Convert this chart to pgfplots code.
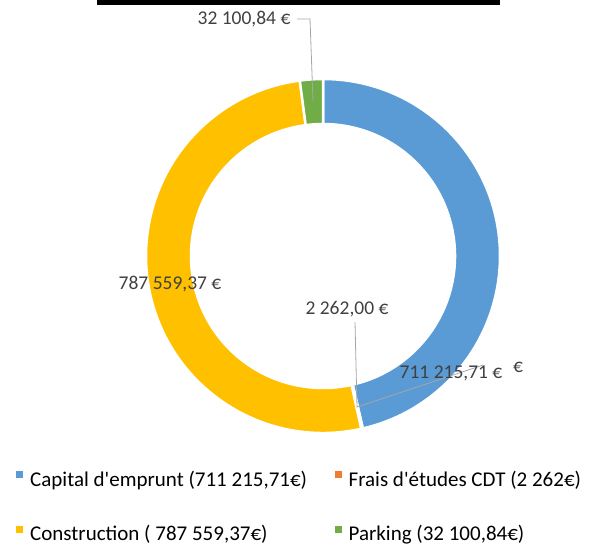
\documentclass[border=0pt]{standalone}
\usepackage{fontspec}
\setmainfont{Carlito}
\usepackage{pgfplots}
\pgfplotsset{compat=1.18}

\definecolor{capblue}{HTML}{5B9BD5}
\definecolor{fraisorange}{HTML}{ED7D31}
\definecolor{constyellow}{HTML}{FFC000}
\definecolor{parkgreen}{HTML}{70AD47}
\definecolor{labelgray}{HTML}{404040}
\definecolor{leadergray}{HTML}{A6A6A6}

% slice values (EUR)
\def\vCap{711215.71}
\def\vFrais{2262}
\def\vConstr{787559.37}
\def\vPark{32100.84}
\edef\vTot{\fpeval{\vCap+\vFrais+\vConstr+\vPark}}
% boundary angles, clockwise from 12 o'clock
\edef\aA{90}
\edef\aB{\fpeval{90-360*\vCap/\vTot}}
\edef\aC{\fpeval{\aB-360*\vFrais/\vTot}}
\edef\aD{\fpeval{\aC-360*\vConstr/\vTot}}
\edef\aE{\fpeval{\aD-360*\vPark/\vTot}}

\def\Ro{177}
\def\Ri{132}
% donut slice: start angle, end angle, colour
\newcommand\slice[3]{%
  \fill[#3, draw=white, line width=2.5pt]
    ([shift={(#1:\Ro pt)}]axis cs:323,256)
    arc[start angle=#1, end angle=#2, radius=\Ro pt]
    -- ([shift={(#2:\Ri pt)}]axis cs:323,256)
    arc[start angle=#2, end angle=#1, radius=\Ri pt] -- cycle;}

\begin{document}
\begin{tikzpicture}
\begin{axis}[
    width=590pt, height=547pt, scale only axis,
    xmin=0, xmax=590, ymin=0, ymax=547,
    y dir=reverse,
    hide axis, clip=false,
    legend columns=2,
    legend cell align=left,
    legend image code/.code={%
        \fill[#1] (0pt,3.3pt) rectangle (7pt,10.3pt);
        \path (14pt,0pt);},
    legend style={at={(axis cs:16,471)}, anchor=north west,
        draw=none, fill=none, inner sep=0pt,
        font=\fontsize{21}{25}\selectfont, text=black,
        nodes={inner sep=0pt, text height=14pt, text depth=4pt},
        row sep=35pt,
        /tikz/every even column/.append style={column sep=27.5pt}},
]
\addlegendimage{fill=capblue, draw=none}
\addlegendentry{Capital d\textquotesingle emprunt (711 215,71€)}
\addlegendimage{fill=fraisorange, draw=none}
\addlegendentry{Frais d\textquotesingle études CDT (2 262€)}
\addlegendimage{fill=constyellow, draw=none}
\addlegendentry{Construction ( 787 559,37€)}
\addlegendimage{fill=parkgreen, draw=none}
\addlegendentry{Parking (32 100,84€)}

\path (axis cs:0,0) rectangle (axis cs:590,547);
\fill[black] (axis cs:97,0) rectangle (axis cs:500,5);

\slice{\aA}{\aB}{capblue}
\slice{\aB}{\aC}{fraisorange}
\slice{\aC}{\aD}{constyellow}
\slice{\aD}{\aE}{parkgreen}

% leader lines
\draw[leadergray, line width=0.8pt] (axis cs:297,19) -- (axis cs:310,19) -- (axis cs:313,101);
\draw[leadergray, line width=0.8pt] (axis cs:355,322) -- (axis cs:357,407) -- (axis cs:483,365);

% data labels
\begin{scope}[font=\fontsize{19.5}{23}\selectfont, text=labelgray]
\node at (axis cs:244,19) {32 100,84 €};
\node at (axis cs:170,284) {787 559,37 €};
\node at (axis cs:347,309) {2 262,00 €};
\node at (axis cs:451,373) {711 215,71 €};
\node at (axis cs:518,367) {€};
\end{scope}
\end{axis}
\pgfresetboundingbox
\useasboundingbox (current axis.south west) rectangle (current axis.north east);
\end{tikzpicture}
\end{document}
